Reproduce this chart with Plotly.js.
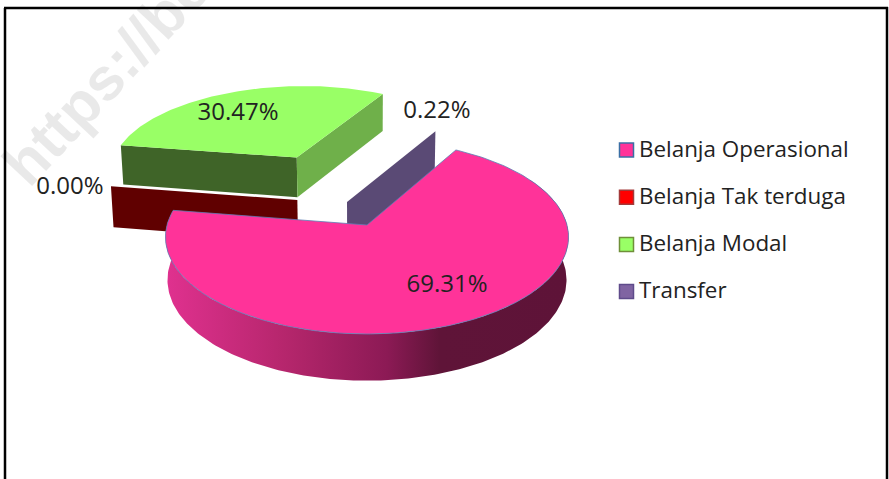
<!DOCTYPE html>
<html>
<head>
<meta charset="utf-8">
<script src="https://cdn.plot.ly/plotly-3.0.1.min.js"></script>
<style>html,body{margin:0;padding:0;background:#fff;overflow:hidden}</style>
</head>
<body>
<div id="chart" style="width:889px;height:479px"></div>
<script>
// ---- data ----
const categories = ["Belanja Operasional", "Belanja Tak terduga", "Belanja Modal", "Transfer"];
const shares = [69.31, 0.00, 30.47, 0.22];
const legendSwatch = ["#FF3399", "#FF0000", "#99FF66", "#8064A2"];
const legendBorder = ["#3B6FA5", "#A33A3A", "#6F8F3A", "#5F4B8B"];
const topColors = ["#FF3399", "#600000", "#99FF66", "#5A4A75"];
const wallColors = ["#600000", "#3F6428", "#6FB04A", "#5A4A75"];
const explodeX = [0, -0.36, -0.385, -0.103];
const explodeZ = [0, 0.27, 0.775, 0.248];
const labelX = [447, 70, 238, 437];
const labelY = [286, 188, 114, 112];

// ---- perspective pie projection ----
const CX = 367, CY = 225, F = 200, G = 95.5, K = 0.1237, ROT = 29.5;
const rad = d => d * Math.PI / 180;
function proj(X, Z, low) {
  const w = 1 + K * Z;
  const x = F * X / w, y = -G * Z / w;
  if (!low) return [CX + x, CY + y];
  return [CX + x * 0.99, CY + y + 42.5 / (1 + 0.09 * Z)];
}
function rim(i, deg, low) {
  return proj(explodeX[i] + Math.sin(rad(deg)), explodeZ[i] + Math.cos(rad(deg)), low);
}
function apex(i, low) { return proj(explodeX[i], explodeZ[i], low); }
function arc(i, a, b, low) {
  const pts = [], n = Math.max(1, Math.ceil(Math.abs(b - a)));
  for (let j = 0; j <= n; j++) pts.push(rim(i, a + (b - a) * j / n, low));
  return pts;
}
function poly(pts, fill, extra) {
  const closed = pts.concat([pts[0]]);
  return Object.assign({
    type: "scatter", mode: "lines", fill: "toself", fillcolor: fill,
    x: closed.map(p => p[0]), y: closed.map(p => p[1]),
    line: {width: 0, color: fill}, hoverinfo: "skip", showlegend: false
  }, extra || {});
}

// slice angles follow the values
const starts = [], ends = [];
let acc = ROT;
shares.forEach(v => { starts.push(acc); acc += v * 3.6; ends.push(acc); });

const traces = [];
// Belanja Tak terduga: zero share, only its side wall shows
traces.push(poly([apex(1, false), rim(1, starts[1], false), rim(1, starts[1], true), apex(1, true)], wallColors[0], {name: categories[1]}));
// Belanja Modal
traces.push(poly([apex(2, false), rim(2, starts[2], false), rim(2, starts[2], true), apex(2, true)], wallColors[1], {name: categories[2]}));
traces.push(poly([apex(2, false), rim(2, ends[2], false), rim(2, ends[2], true), apex(2, true)], wallColors[2], {name: categories[2]}));
traces.push(poly([apex(2, false)].concat(arc(2, starts[2], ends[2], false)), topColors[2], {name: categories[2]}));
// Transfer
traces.push(poly([apex(3, false), rim(3, ends[3], false), rim(3, ends[3], true), apex(3, true)], wallColors[3], {name: categories[3]}));
// Belanja Operasional
const frontStart = Math.max(starts[0], 60), frontEnd = ends[0];
traces.push(poly(arc(0, frontStart, frontEnd, false).concat(arc(0, frontEnd, frontStart, true)), "#B02468", {
  name: categories[0],
  fillgradient: {type: "horizontal", colorscale: [[0, "#E0318F"], [0.3, "#B5266C"], [0.55, "#8C1A55"], [0.68, "#5F1438"], [1, "#5E1338"]]}
}));
traces.push(poly([apex(0, false)].concat(arc(0, starts[0], ends[0], false)), topColors[0], {
  name: categories[0], line: {width: 0.8, color: "#5A7FB5"}
}));
// value labels
traces.push({
  type: "scatter", mode: "text", x: labelX, y: labelY,
  text: shares.map(v => v.toFixed(2) + "%"), textposition: "middle center",
  textfont: {family: "Open Sans, sans-serif", size: 24, color: "#222222"},
  hoverinfo: "skip", showlegend: false, cliponaxis: false
});
// legend column
const legendRow = categories.map((c, i) => 150 + i * 47.2);
traces.push({
  type: "scatter", mode: "markers",
  x: categories.map(() => 626.5), y: legendRow,
  marker: {symbol: "square", size: 14, color: legendSwatch, line: {width: 1.5, color: legendBorder}},
  hoverinfo: "skip", showlegend: false, cliponaxis: false
});
traces.push({
  type: "scatter", mode: "text",
  x: categories.map(() => 639), y: legendRow.map(v => v + 1),
  text: categories, textposition: "middle right",
  textfont: {family: "Open Sans, sans-serif", size: 22.4, color: "#222222"},
  hoverinfo: "skip", showlegend: false, cliponaxis: false
});

const hiddenAxis = {visible: false, fixedrange: true, showgrid: false, zeroline: false};
Plotly.newPlot("chart", traces, {
  width: 889, height: 479, margin: {l: 0, r: 0, t: 0, b: 0, pad: 0},
  paper_bgcolor: "#ffffff", plot_bgcolor: "#ffffff", showlegend: false,
  xaxis: Object.assign({range: [0, 889]}, hiddenAxis),
  yaxis: Object.assign({range: [479, 0]}, hiddenAxis),
  shapes: [
    {type: "line", xref: "x", yref: "y", x0: 5, x1: 5, y0: 8, y1: 479, line: {color: "#000", width: 2.5}},
    {type: "line", xref: "x", yref: "y", x0: 4, x1: 888, y0: 8, y1: 8, line: {color: "#000", width: 2.5}},
    {type: "line", xref: "x", yref: "y", x0: 887, x1: 887, y0: 7, y1: 479, line: {color: "#000", width: 2.5}}
  ],
  annotations: [{
    xref: "x", yref: "y", x: 106, y: 76, text: "<b>https://be</b>", showarrow: false, textangle: -47,
    font: {family: "Liberation Sans, sans-serif", size: 60, color: "rgba(0,0,0,0.085)"}
  }]
}, {staticPlot: true, displayModeBar: false});
</script>
</body>
</html>
